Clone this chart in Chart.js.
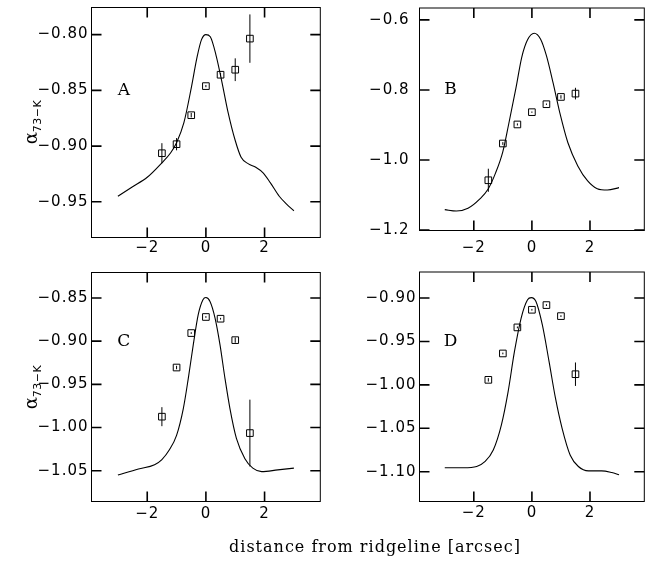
<!DOCTYPE html>
<html>
<head>
<meta charset="utf-8">
<script src="https://cdn.jsdelivr.net/npm/chart.js@4.4.0/dist/chart.umd.min.js"></script>
<style>
  body { margin: 0; background: #fff; }
  #wrap { position: relative; width: 650px; height: 569px; overflow: hidden; background: #fff; }
  canvas { position: absolute; }
  .ylab {
    position: absolute; width: 100px; height: 24px; line-height: 24px;
    text-align: center; transform: rotate(-90deg);
    font-family: "DejaVu Serif", serif; font-size: 18px; color: #000;
  }
  .ylab sub { font-family: "DejaVu Sans", sans-serif; font-size: 11px; vertical-align: -4px; letter-spacing: 0.5px; }
  #xTitle {
    position: absolute; left: 175px; width: 400px; top: 537px; text-align: center;
    font-family: "DejaVu Serif", serif; font-size: 16px; letter-spacing: 1px; color: #000;
  }
</style>
</head>
<body>
<div id="wrap">
  <canvas id="cA" width="326" height="275" style="left:0;top:0"></canvas>
  <canvas id="cB" width="324" height="275" style="left:326px;top:0"></canvas>
  <canvas id="cC" width="326" height="275" style="left:0;top:262px"></canvas>
  <canvas id="cD" width="324" height="275" style="left:326px;top:262px"></canvas>
  <div class="ylab" style="left:-19px;top:110px">α<sub>73−K</sub></div>
  <div class="ylab" style="left:-19px;top:375px">α<sub>73−K</sub></div>
  <div id="xTitle">distance from ridgeline [arcsec]</div>
</div>
<script>
// x ticks (shared)
const xTickVals = [-2, 0, 2];
const xTickLabels = ["\u22122", "0", "2"];

// positions of the measured points (shared)
const ptsX = [-1.5, -1, -0.5, 0, 0.5, 1, 1.5];

// panel A
const curveAX = [-3.0, -2.5, -2.0, -1.5, -1.2, -1.0, -0.75, -0.5, -0.3, -0.15, 0, 0.15, 0.35, 0.55, 0.75, 1.0, 1.2, 1.45, 1.7, 1.95, 2.2, 2.5, 2.75, 3.0];
const curveAY = [-0.945, -0.9365, -0.928, -0.915, -0.906, -0.897, -0.879, -0.848, -0.820, -0.8045, -0.800, -0.802, -0.819, -0.843, -0.869, -0.895, -0.910, -0.916, -0.919, -0.924, -0.933, -0.945, -0.952, -0.958];
const ptsAY = [-0.9064, -0.8983, -0.8723, -0.8462, -0.836, -0.8315, -0.8036];
const errAY = [0.009, 0.0055, 0.002, 0.001, 0.0015, 0.0102, 0.0217];
const yTicksA = [-0.80, -0.85, -0.90, -0.95];
const yLabelsA = ["\u22120.80", "\u22120.85", "\u22120.90", "\u22120.95"];

// panel B
const curveBX = [-3.0, -2.6, -2.2, -1.8, -1.5, -1.25, -1.0, -0.8, -0.55, -0.35, -0.15, 0.08, 0.3, 0.5, 0.73, 0.96, 1.24, 1.58, 1.92, 2.25, 2.6, 3.0];
const curveBY = [-1.142, -1.146, -1.138, -1.112, -1.082, -1.037, -0.976, -0.898, -0.795, -0.707, -0.657, -0.638, -0.655, -0.702, -0.780, -0.865, -0.951, -1.017, -1.060, -1.082, -1.086, -1.079];
const ptsBY = [-1.058, -0.953, -0.8986, -0.8635, -0.8408, -0.82, -0.8105];
const errBY = [0.033, 0.004, 0.003, 0.002, 0.002, 0.005, 0.0166];
const yTicksB = [-0.6, -0.8, -1.0, -1.2];
const yLabelsB = ["\u22120.6", "\u22120.8", "\u22121.0", "\u22121.2"];

// panel C
const curveCX = [-3.0, -2.3, -1.75, -1.5, -1.25, -1.0, -0.77, -0.6, -0.43, -0.26, -0.1, 0, 0.14, 0.31, 0.48, 0.65, 0.82, 1.04, 1.33, 1.6, 1.9, 2.45, 3.0];
const curveCY = [-1.055, -1.048, -1.043, -1.037, -1.026, -1.009, -0.978, -0.943, -0.904, -0.869, -0.852, -0.8495, -0.854, -0.873, -0.904, -0.943, -0.978, -1.0125, -1.036, -1.047, -1.051, -1.049, -1.047];
const ptsCY = [-0.9874, -0.9305, -0.8906, -0.872, -0.874, -0.8988, -1.0064];
const errCY = [0.011, 0.002, 0.001, 0.001, 0.001, 0.003, 0.0387];
const yTicksC = [-0.85, -0.90, -0.95, -1.00, -1.05];
const yLabelsC = ["\u22120.85", "\u22120.90", "\u22120.95", "\u22121.00", "\u22121.05"];

// panel D
const curveDX = [-3.0, -2.35, -1.9, -1.62, -1.33, -1.05, -0.82, -0.6, -0.37, -0.15, -0.02, 0.14, 0.36, 0.59, 0.81, 1.04, 1.32, 1.6, 1.95, 2.4, 2.75, 3.0];
const curveDY = [-1.0955, -1.0955, -1.094, -1.0885, -1.075, -1.046, -1.008, -0.9615, -0.923, -0.902, -0.8995, -0.904, -0.931, -0.973, -1.015, -1.050, -1.081, -1.094, -1.099, -1.099, -1.101, -1.1035];
const ptsDY = [-0.9942, -0.9638, -0.9338, -0.9135, -0.9081, -0.9208, -0.9877];
const errDY = [0.002, 0.001, 0.001, 0.001, 0.001, 0.001, 0.0135];
const yTicksD = [-0.90, -0.95, -1.00, -1.05, -1.10];
const yLabelsD = ["\u22120.90", "\u22120.95", "\u22121.00", "\u22121.05", "\u22121.10"];

// frame, inward ticks, error bars, panel letter
function framePlugin(p) {
  return {
    id: "frame",
    beforeDraw(chart) {
      chart.ctx.letterSpacing = "1px";
    },
    afterDatasetsDraw(chart) {
      const ctx = chart.ctx;
      const a = chart.chartArea;
      const x = chart.scales.x, y = chart.scales.y;
      ctx.save();
      ctx.strokeStyle = "#000";
      ctx.lineWidth = 1;
      ctx.strokeRect(a.left, a.top, a.right - a.left, a.bottom - a.top);

      ctx.lineWidth = 1.6;
      ctx.beginPath();
      xTickVals.forEach(v => {
        const px = x.getPixelForValue(v);
        ctx.moveTo(px, a.top); ctx.lineTo(px, a.top + 10);
        ctx.moveTo(px, a.bottom); ctx.lineTo(px, a.bottom - 10);
      });
      p.yTicks.forEach(v => {
        const py = y.getPixelForValue(v);
        ctx.moveTo(a.left, py); ctx.lineTo(a.left + 10, py);
        ctx.moveTo(a.right, py); ctx.lineTo(a.right - 10, py);
      });
      ctx.stroke();

      ctx.lineWidth = 1;
      ctx.beginPath();
      p.err.forEach((e, i) => {
        const px = x.getPixelForValue(ptsX[i]);
        ctx.moveTo(px, y.getPixelForValue(p.py[i] + e));
        ctx.lineTo(px, y.getPixelForValue(p.py[i] - e));
      });
      ctx.stroke();

      ctx.fillStyle = "#000";
      ctx.letterSpacing = "0px";
      ctx.font = '17px "DejaVu Serif"';
      ctx.textAlign = "center";
      ctx.textBaseline = "middle";
      ctx.fillText(p.letter, x.getPixelForValue(-2.8), y.getPixelForValue(p.letterY));
      ctx.restore();
    }
  };
}

function makePanel(id, p) {
  const curve = p.cx.map((v, i) => ({ x: v, y: p.cy[i] }));
  const pts = ptsX.map((v, i) => ({ x: v, y: p.py[i] }));
  new Chart(document.getElementById(id), {
    type: "scatter",
    data: {
      datasets: [
        {
          type: "line", data: curve, borderColor: "#000", borderWidth: 1.1,
          pointRadius: 0, cubicInterpolationMode: "monotone", fill: false
        },
        {
          data: pts, pointStyle: "rect", pointRadius: 4.7, borderWidth: 1,
          borderColor: "#000", backgroundColor: "rgba(0,0,0,0)"
        }
      ]
    },
    options: {
      responsive: false,
      devicePixelRatio: 1,
      animation: false,
      events: [],
      layout: { padding: p.pad },
      plugins: {
        legend: { display: false },
        tooltip: { enabled: false }
      },
      scales: {
        x: {
          type: "linear", min: p.xMin, max: p.xMax,
          grid: { display: false, drawTicks: false, tickLength: 0 },
          border: { display: false },
          afterBuildTicks: s => { s.ticks = xTickVals.map(v => ({ value: v })); },
          afterFit: s => { s.height = 30; s.paddingLeft = 0; s.paddingRight = 0; },
          ticks: {
            padding: p.xPad, color: "#000", maxRotation: 0, autoSkip: false,
            font: { family: "DejaVu Sans", size: 15 },
            callback: (v, i) => xTickLabels[i]
          }
        },
        y: {
          type: "linear", min: p.yMin, max: p.yMax,
          grid: { display: false, drawTicks: false, tickLength: 0 },
          border: { display: false },
          afterBuildTicks: s => { s.ticks = p.yTicks.map(v => ({ value: v })); },
          afterFit: s => { s.width = p.yW; s.paddingTop = 0; s.paddingBottom = 0; },
          ticks: {
            padding: p.yPad, color: "#000", autoSkip: false,
            font: { family: "DejaVu Sans", size: 15 },
            callback: (v, i) => p.yLabels[i]
          }
        }
      }
    },
    plugins: [framePlugin(p)]
  });
}

makePanel("cA", {
  cx: curveAX, cy: curveAY, py: ptsAY, err: errAY, yTicks: yTicksA, yLabels: yLabelsA,
  letter: "A", letterY: -0.85,
  xMin: -3.9, xMax: 3.9, yMin: -0.982, yMax: -0.7757,
  yW: 91.5, yPad: 3, xPad: 2,
  pad: { left: 0, top: 7.5, right: 5.5, bottom: 7.5 }
});
makePanel("cB", {
  cx: curveBX, cy: curveBY, py: ptsBY, err: errBY, yTicks: yTicksB, yLabels: yLabelsB,
  letter: "B", letterY: -0.80,
  xMin: -3.87, xMax: 3.87, yMin: -1.2015, yMax: -0.566,
  yW: 93.5, yPad: 10, xPad: 9,
  pad: { left: 0, top: 8, right: 1.5, bottom: 14.5 }
});
makePanel("cC", {
  cx: curveCX, cy: curveCY, py: ptsCY, err: errCY, yTicks: yTicksC, yLabels: yLabelsC,
  letter: "C", letterY: -0.90,
  xMin: -3.9, xMax: 3.9, yMin: -1.0856, yMax: -0.8205,
  yW: 91.5, yPad: 3, xPad: 4,
  pad: { left: 0, top: 10.5, right: 5.5, bottom: 5.5 }
});
makePanel("cD", {
  cx: curveDX, cy: curveDY, py: ptsDY, err: errDY, yTicks: yTicksD, yLabels: yLabelsD,
  letter: "D", letterY: -0.95,
  xMin: -3.87, xMax: 3.87, yMin: -1.1343, yMax: -0.870,
  yW: 93.5, yPad: 3, xPad: 3,
  pad: { left: 0, top: 10, right: 1.5, bottom: 5.5 }
});
</script>
</body>
</html>
